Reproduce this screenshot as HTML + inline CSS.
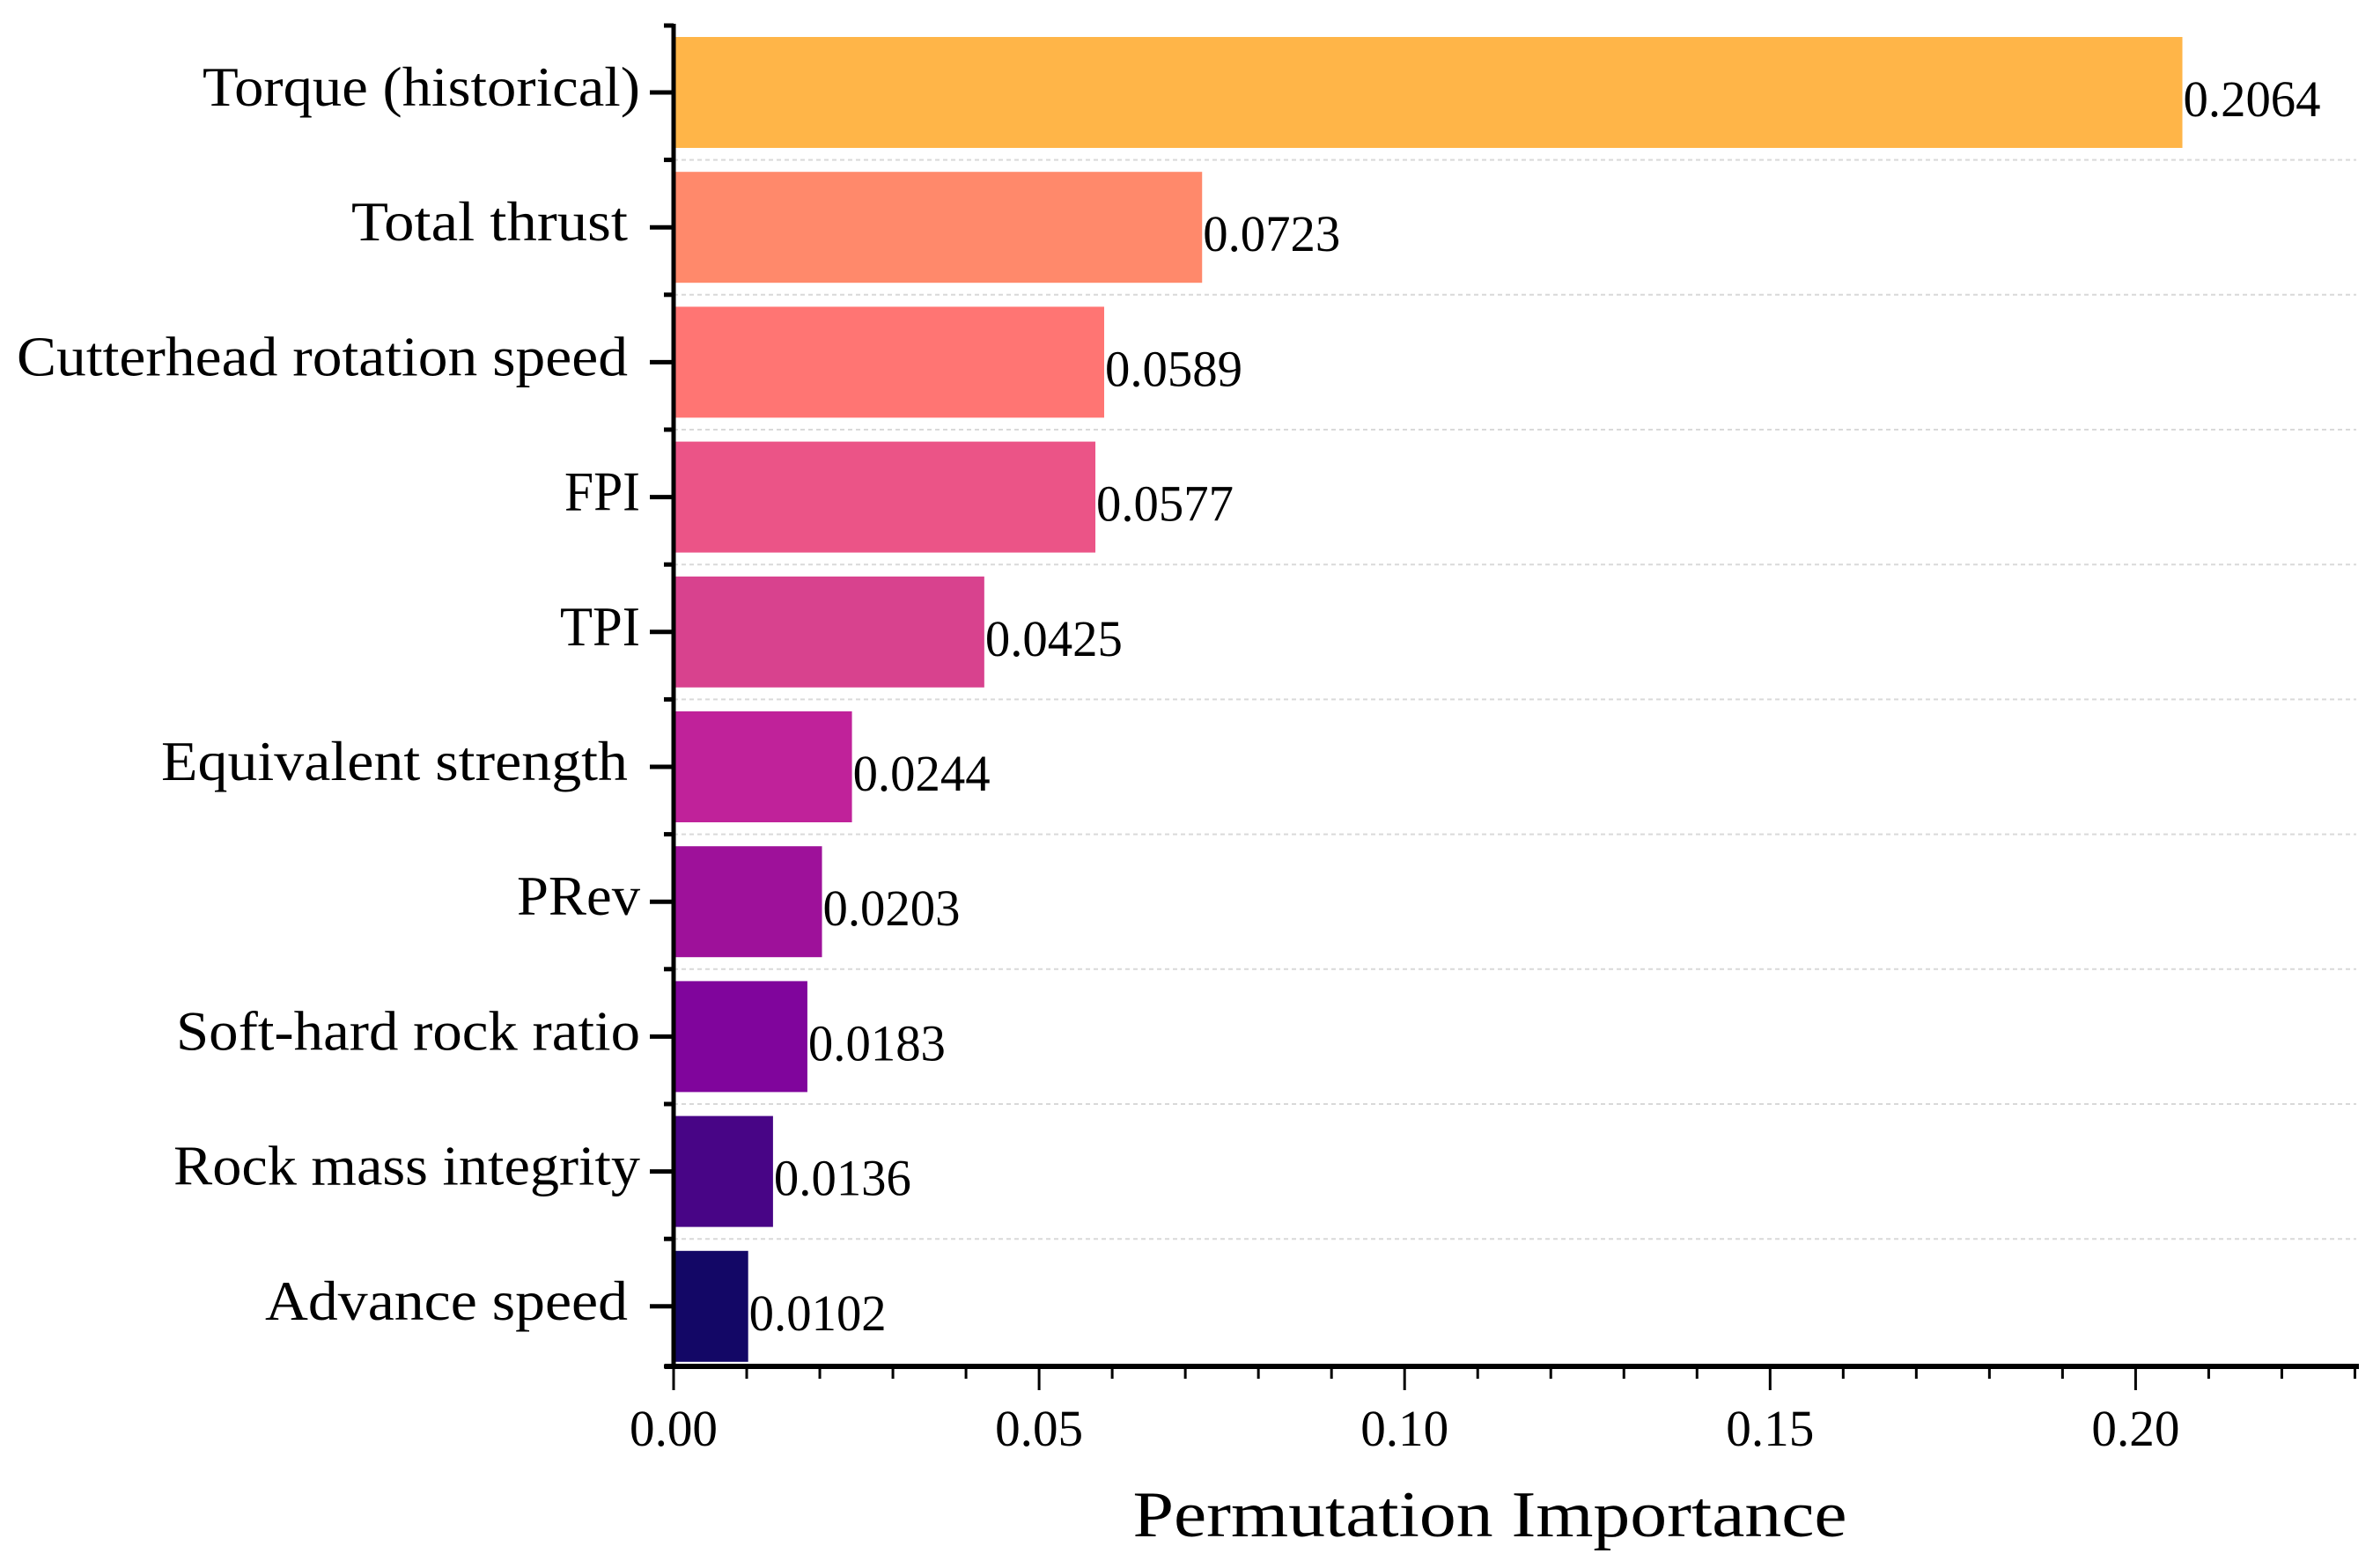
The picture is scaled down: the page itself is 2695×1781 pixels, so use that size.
<!DOCTYPE html>
<html><head><meta charset="utf-8"><style>
html,body{margin:0;padding:0;background:#fff;}
svg{display:block;font-family:"Liberation Serif",serif;}
</style></head><body>
<svg id="chart" width="2695" height="1781" viewBox="0 0 2695 1781" xmlns="http://www.w3.org/2000/svg"></svg>
<script>
const categories = ["Torque (historical)","Total thrust","Cutterhead rotation speed","FPI","TPI","Equivalent strength","PRev","Soft-hard rock ratio","Rock mass integrity","Advance speed"];
const values = [0.2064,0.0723,0.0589,0.0577,0.0425,0.0244,0.0203,0.0183,0.0136,0.0102];
const valueLabels = ["0.2064","0.0723","0.0589","0.0577","0.0425","0.0244","0.0203","0.0183","0.0136","0.0102"];
const barColors = ["#FFB548","#FF896B","#FF7573","#EB5487","#D8428E","#C0229A","#9E119A","#80059C","#480586","#130766"];
const xTicks = [0,0.05,0.10,0.15,0.20];
const xTickLabels = ["0.00","0.05","0.10","0.15","0.20"];
const labelWidths = [497,314,694,86,91,530,140,527,530,412];
const trailingSpace = [false,true,true,false,false,true,false,false,false,true];

const NS="http://www.w3.org/2000/svg";
const svg=document.getElementById('chart');
const X0=765, PXU=8302;
const xs=v=>X0+v*PXU;
const YTOP=29, PITCH=153.2, BAR_H=126;
const yc=i=>105+i*PITCH;
function mk(t,a){const e=document.createElementNS(NS,t);for(const k in a)e.setAttribute(k,a[k]);svg.appendChild(e);return e;}

for(let i=0;i<categories.length-1;i++){
  const y=(yc(i)+yc(i+1))/2;
  const g=mk('line',{x1:X0,x2:2676,y1:y,y2:y,stroke:'#d9d9d9','stroke-width':2,'stroke-dasharray':'5,4'});
  
  
}
categories.forEach((c,i)=>{
  const r=mk('rect',{x:X0,y:yc(i)-BAR_H/2,width:xs(values[i])-X0,height:BAR_H,fill:barColors[i]});
  
  
  const v=mk('text',{x:xs(values[i])+1,y:yc(i)+27,'font-size':58,textLength:valueLabels[i].length*26,lengthAdjust:'spacingAndGlyphs',fill:'#000'});
  v.textContent=valueLabels[i];
  
  
  const right=trailingSpace[i]?713:727;
  const l=mk('text',{x:right,y:yc(i)+15,'font-size':64,'text-anchor':'end',textLength:labelWidths[i],lengthAdjust:'spacingAndGlyphs',fill:'#000'});
  l.textContent=c;
  
  
  const t=mk('line',{x1:738,x2:X0,y1:yc(i),y2:yc(i),stroke:'#000','stroke-width':5});
  
  
});
for(let i=0;i<=categories.length;i++){
  const y=i===0?YTOP:(i===categories.length?1552:(yc(i-1)+yc(i))/2);
  const t=mk('line',{x1:754,x2:X0,y1:y,y2:y,stroke:'#000','stroke-width':5});
  
  
}
const ya=mk('line',{x1:X0,x2:X0,y1:YTOP-2,y2:1555,stroke:'#000','stroke-width':5});


const xa=mk('line',{x1:755,x2:2679,y1:1552,y2:1552,stroke:'#000','stroke-width':6});


for(let k=0;k<=23;k++){
  const v=k*0.01, major=k%5===0;
  const t=mk('line',{x1:xs(v),x2:xs(v),y1:1552,y2:major?1579:1566,stroke:'#000','stroke-width':3});
  
  
}
xTicks.forEach((v,i)=>{
  const t=mk('text',{x:xs(v),y:1642,'font-size':58,'text-anchor':'middle',textLength:100,lengthAdjust:'spacingAndGlyphs',fill:'#000'});
  t.textContent=xTickLabels[i];
  
  
});
const title=mk('text',{x:1692,y:1745,'font-size':74,'text-anchor':'middle',textLength:811,lengthAdjust:'spacingAndGlyphs',fill:'#000'});
title.textContent='Permutation Importance';


</script>
</body></html>
